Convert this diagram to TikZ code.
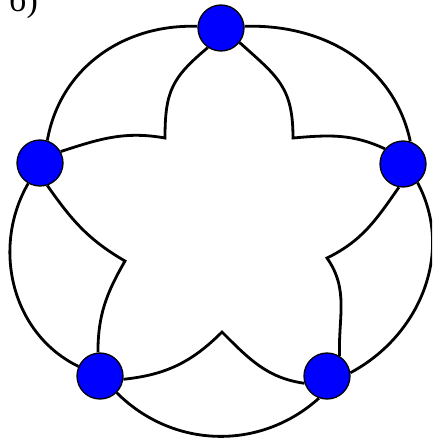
\documentclass[tikz,border=0pt]{standalone}
\usepackage{fontspec}
\newfontfamily\cyr{Liberation Serif}
\begin{document}
\begin{tikzpicture}[x=1pt,y=1pt,
  vtx/.style={circle,draw=black,line width=1.3pt,fill=blue,minimum size=46pt,inner sep=0pt},
  edge/.style={line width=2.8pt,black,line join=miter}]
\useasboundingbox (0,0) rectangle (432,-444);
\clip (0,0) rectangle (432,-444);
% vertices
\node[vtx] (T)  at (221,-28)  {};
\node[vtx] (L)  at (40,-163)  {};
\node[vtx] (R)  at (403,-164) {};
\node[vtx] (BL) at (100,-376) {};
\node[vtx] (BR) at (327,-376) {};
% cusps of the inner star
\coordinate (c1) at (165,-138);
\coordinate (c2) at (293,-138);
\coordinate (c3) at (125,-261);
\coordinate (c4) at (327,-258);
\coordinate (c5) at (222,-332);
% label
\node[font=\cyr\fontsize{34}{34}\selectfont,anchor=base west,inner sep=0pt] (lab) at (9,-12) {б)};
% inner star
\draw[edge] (T.236) to[out=220,in=90,looseness=1.2] (c1) to[out=170,in=18] (L.29);
\draw[edge] (L.-72) to[out=-55,in=150] (c3) to[out=240,in=90] (BL.95);
\draw[edge] (BL.-8) to[out=6,in=225] (c5) to[out=-45,in=172] (BR.198);
\draw[edge] (BR.58) to[out=92,in=-55] (c4) to[out=26,in=235] (R.-100);
\draw[edge] (R.140) to[out=155,in=5] (c2) to[out=90,in=-42,looseness=1.2] (T.-38);
% outer ring
\draw[edge] (T.176) to[out=178,in=80] (L.72);
\draw[edge] (L.240) to[out=240,in=154] (BL.156);
\draw[edge] (BL.-45) to[out=-45,in=222] (BR.250);
\draw[edge] (BR.8) to[out=28,in=-62] (R.-52);
\draw[edge] (R.72) to[out=102,in=2] (T.4);
\end{tikzpicture}
\end{document}
